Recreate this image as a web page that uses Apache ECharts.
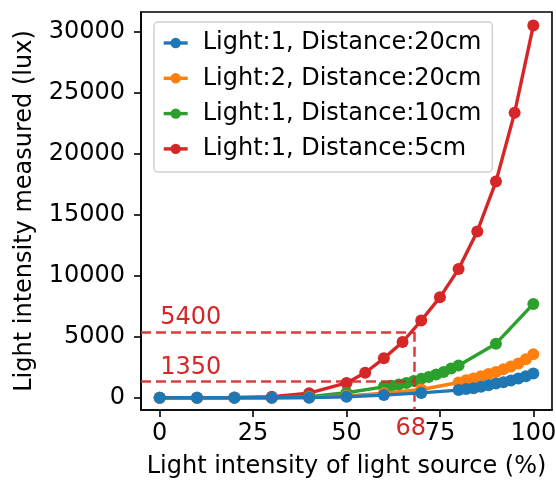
<!DOCTYPE html>
<html>
<head>
<meta charset="utf-8">
<script src="https://cdn.jsdelivr.net/npm/echarts@6/dist/echarts.min.js"></script>
<style>
  html, body { margin: 0; padding: 0; background: #fff; }
  #chart { width: 556px; height: 483px; }
</style>
</head>
<body>
<div id="chart"></div>
<script>
// light source level (%) and measured lux, per setup
const xBlue = [0, 10, 20, 30, 40, 50, 60, 70, 80, 82, 84, 86, 88, 90, 92, 94, 96, 98, 100]
const yBlue = [0, 0, 0, 0, 10, 80, 220, 400, 630, 710, 790, 900, 1030, 1170, 1280, 1420, 1580, 1770, 1990]
const xOrange = [0, 10, 20, 30, 40, 50, 60, 70, 80, 82, 84, 86, 88, 90, 92, 94, 96, 98, 100]
const yOrange = [0, 0, 0, 0, 20, 150, 380, 680, 1250, 1440, 1580, 1770, 1950, 2120, 2340, 2560, 2800, 3150, 3560]
const xGreen = [0, 10, 20, 30, 40, 50, 60, 62, 64, 66, 68, 70, 72, 74, 76, 78, 80, 90, 100]
const yGreen = [0, 0, 0, 10, 100, 410, 900, 980, 1090, 1220, 1380, 1550, 1710, 1900, 2120, 2390, 2640, 4430, 7690]
const xRed = [0, 10, 20, 30, 40, 50, 55, 60, 65, 70, 75, 80, 85, 90, 95, 100]
const yRed = [0, 0, 20, 80, 380, 1220, 2050, 3230, 4570, 6330, 8230, 10540, 13630, 17710, 23350, 30490]

const names = ['Light:1, Distance:20cm', 'Light:2, Distance:20cm', 'Light:1, Distance:10cm', 'Light:1, Distance:5cm']
const colors = ['#1f77b4', '#ff7f0e', '#2ca02c', '#d62728']
const xTicks = [0, 25, 50, 75, 100]
const yTicks = [0, 5000, 10000, 15000, 20000, 25000, 30000]

// reading marked on the 5cm curve
const markX = 68
const markHigh = 5400
const markLow = 1350

const X_MIN = -5
const X_MAX = 105
const Y_MIN = -1000
const Y_MAX = 31600

const zip = (xs, ys) => xs.map((x, i) => [x, ys[i]])

const font = 'DejaVu Sans'
const red = colors[3]

const lineSeries = (i, xs, ys, z) => ({
  name: names[i],
  type: 'line',
  data: zip(xs, ys),
  z,
  symbol: 'circle',
  symbolSize: 12,
  showSymbol: true,
  color: colors[i],
  lineStyle: { width: 3.4, color: colors[i] },
  itemStyle: { color: colors[i], borderWidth: 0 },
  animation: false,
})

const redSeries = lineSeries(3, xRed, yRed, 2)
redSeries.markLine = {
  silent: true,
  symbol: 'none',
  animation: false,
  label: { show: false },
  lineStyle: { color: red, type: [10, 5], width: 2.5, opacity: 0.9 },
  data: [
    [{ coord: [X_MIN, markHigh] }, { coord: [markX, markHigh] }],
    [{ coord: [X_MIN, markLow] }, { coord: [markX, markLow] }],
    [{ coord: [markX, markHigh] }, { coord: [markX, Y_MIN] }],
  ],
}
redSeries.markPoint = {
  silent: true,
  symbol: 'circle',
  symbolSize: 0,
  animation: false,
  label: {
    show: true,
    position: 'inside',
    color: red,
    fontFamily: font,
    fontSize: 24,
  },
  data: [
    { coord: [8.3, markHigh], value: markHigh, label: { formatter: String(markHigh), offset: [0, -14] } },
    { coord: [8.3, markLow], value: markLow, label: { formatter: String(markLow), offset: [0, -14] } },
    { coord: [markX, Y_MIN], value: markX, label: { formatter: String(markX), offset: [-3, 19] } },
  ],
}

const plain = (v) => String(v)

const chart = echarts.init(document.getElementById('chart'))
chart.setOption({
  animation: false,
  backgroundColor: '#fff',
  textStyle: { fontFamily: font },
  grid: {
    left: 141, right: 4, top: 12, bottom: 73,
    outerBoundsMode: 'none',
    containLabel: false,
    show: true, borderColor: '#000', borderWidth: 1.6, backgroundColor: 'transparent',
  },
  legend: {
    data: names,
    orient: 'vertical',
    left: 154,
    top: 22,
    padding: [9, 11, 11, 8],
    itemWidth: 24,
    itemHeight: 13,
    itemGap: 11.3,
    lineStyle: { width: 3.4 },
    borderColor: '#d0d0d0',
    borderWidth: 1.5,
    borderRadius: 4,
    backgroundColor: 'rgba(255,255,255,0.8)',
    textStyle: { fontFamily: font, fontSize: 24, color: '#000', lineHeight: 24, padding: [0, 0, 0, 10] },
  },
  xAxis: {
    type: 'value',
    min: X_MIN,
    max: X_MAX,
    name: 'Light intensity of light source (%)',
    nameLocation: 'middle',
    nameGap: 45,
    nameTextStyle: { fontFamily: font, fontSize: 24, color: '#000' },
    axisLine: { show: true, onZero: false, lineStyle: { color: '#000', width: 1.6 } },
    axisTick: { show: true, length: 7, lineStyle: { color: '#000', width: 1.6 }, customValues: xTicks },
    axisLabel: { fontFamily: font, fontSize: 24, color: '#000', margin: 12, customValues: xTicks, formatter: plain },
    splitLine: { show: false },
  },
  yAxis: {
    type: 'value',
    min: Y_MIN,
    max: Y_MAX,
    name: 'Light intensity measured (lux)',
    nameLocation: 'middle',
    nameGap: 104,
    nameTextStyle: { fontFamily: font, fontSize: 24, color: '#000' },
    axisLine: { show: true, onZero: false, lineStyle: { color: '#000', width: 1.6 } },
    axisTick: { show: true, length: 7, lineStyle: { color: '#000', width: 1.6 }, customValues: yTicks },
    axisLabel: { fontFamily: font, fontSize: 24, color: '#000', margin: 16, customValues: yTicks, formatter: plain },
    splitLine: { show: false },
  },
  // red drawn first so the blue curve ends up on top, like the original
  series: [
    redSeries,
    lineSeries(2, xGreen, yGreen, 3),
    lineSeries(1, xOrange, yOrange, 4),
    lineSeries(0, xBlue, yBlue, 5),
  ],
})
</script>
</body>
</html>
